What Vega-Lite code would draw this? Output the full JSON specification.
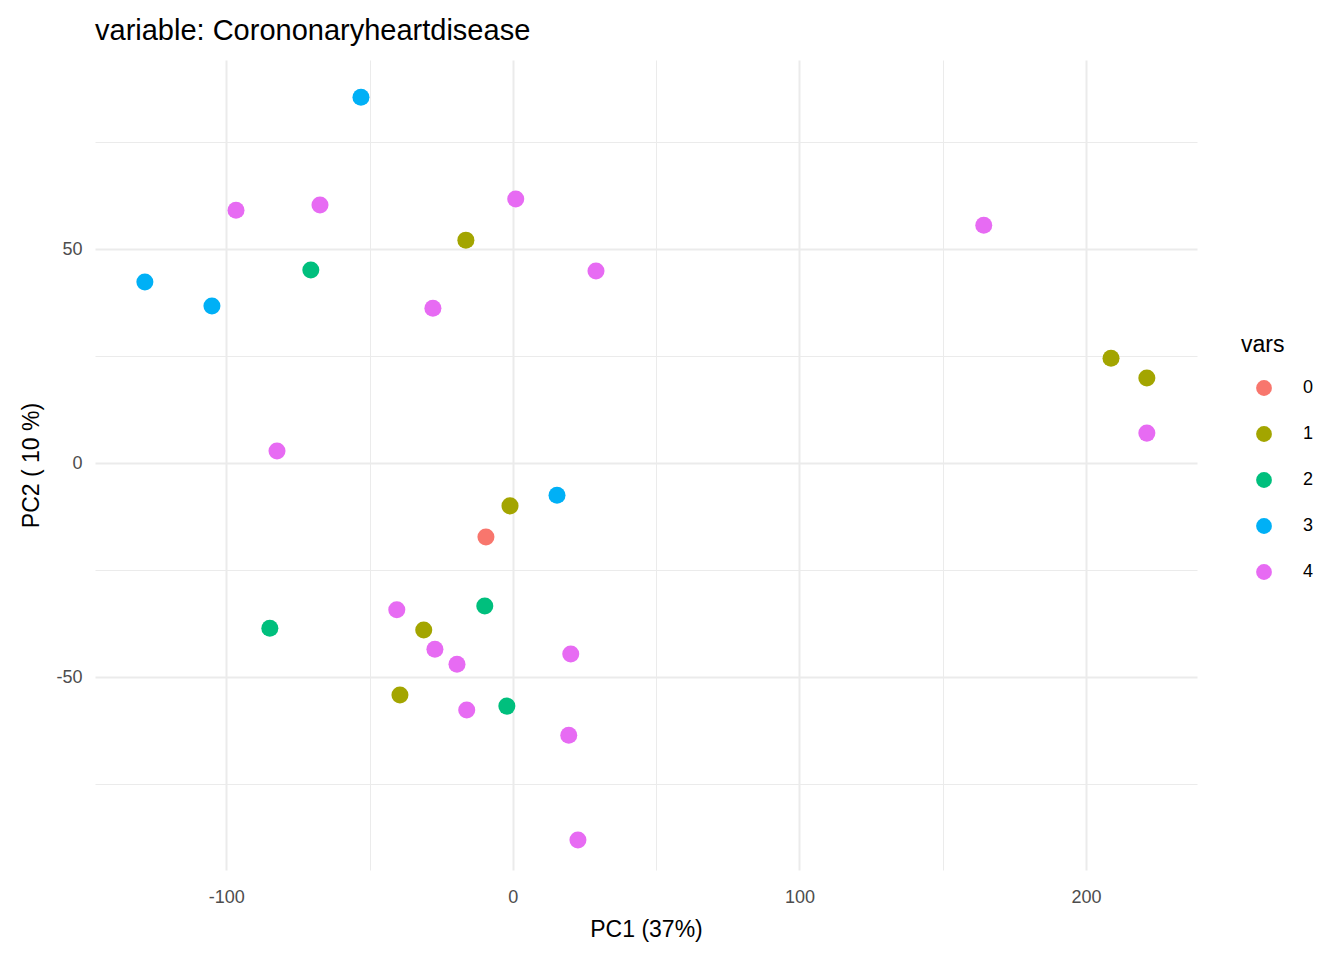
{
"$schema":"https://vega.github.io/schema/vega-lite/v6.json",
"width":1102,"height":810,
"autosize":{"type":"none"},
"padding":{"left":95,"top":60,"right":147,"bottom":90},
"background":"white",
"title":{"text":"variable: Corononaryheartdisease","anchor":"start","frame":"group","fontSize":29,"font":"Liberation Sans","fontWeight":"normal","color":"#000","offset":14},
"config":{"view":{"stroke":null},"font":"Liberation Sans"},
"data":{"values":[
{"PC1":-53.0,"PC2":85.5,"vars":"3"},
{"PC1":-128.4,"PC2":42.3,"vars":"3"},
{"PC1":-105.0,"PC2":36.7,"vars":"3"},
{"PC1":15.4,"PC2":-7.5,"vars":"3"},
{"PC1":-96.6,"PC2":59.1,"vars":"4"},
{"PC1":-67.3,"PC2":60.3,"vars":"4"},
{"PC1":1.0,"PC2":61.7,"vars":"4"},
{"PC1":29.0,"PC2":44.9,"vars":"4"},
{"PC1":-27.9,"PC2":36.2,"vars":"4"},
{"PC1":164.3,"PC2":55.6,"vars":"4"},
{"PC1":221.2,"PC2":7.0,"vars":"4"},
{"PC1":-82.3,"PC2":2.8,"vars":"4"},
{"PC1":-40.5,"PC2":-34.3,"vars":"4"},
{"PC1":-27.2,"PC2":-43.5,"vars":"4"},
{"PC1":-19.5,"PC2":-47.0,"vars":"4"},
{"PC1":20.2,"PC2":-44.6,"vars":"4"},
{"PC1":-16.1,"PC2":-57.7,"vars":"4"},
{"PC1":19.5,"PC2":-63.6,"vars":"4"},
{"PC1":22.7,"PC2":-88.1,"vars":"4"},
{"PC1":-16.4,"PC2":52.1,"vars":"1"},
{"PC1":208.7,"PC2":24.5,"vars":"1"},
{"PC1":221.2,"PC2":19.9,"vars":"1"},
{"PC1":-1.0,"PC2":-10.0,"vars":"1"},
{"PC1":-31.1,"PC2":-39.0,"vars":"1"},
{"PC1":-39.4,"PC2":-54.2,"vars":"1"},
{"PC1":-70.5,"PC2":45.1,"vars":"2"},
{"PC1":-84.8,"PC2":-38.6,"vars":"2"},
{"PC1":-9.8,"PC2":-33.4,"vars":"2"},
{"PC1":-2.1,"PC2":-56.8,"vars":"2"},
{"PC1":-9.4,"PC2":-17.3,"vars":"0"}
]},
"mark":{"type":"point","filled":true,"opacity":1,"size":290},
"encoding":{
"x":{"field":"PC1","type":"quantitative","title":"PC1 (37%)",
"scale":{"domain":[-145.8,238.7],"nice":false,"zero":false},
"axis":{"values":[-100,-50,0,50,100,150,200],"labelExpr":"datum.value % 100 == 0 ? toString(datum.value) : ''","domain":false,"ticks":false,"labelFontSize":18,"labelColor":"#4d4d4d","titleFontSize":23,"titleFontWeight":"normal","titleColor":"#000","labelPadding":18,"titlePadding":12,"gridColor":"#ebebeb","gridWidth":{"condition":{"test":"datum.value % 100 == 0","value":2},"value":1}}},
"y":{"field":"PC2","type":"quantitative","title":"PC2 ( 10 %)",
"scale":{"domain":[-95.1,94.2],"nice":false,"zero":false},
"axis":{"values":[-75,-50,-25,0,25,50,75],"labelExpr":"datum.value % 50 == 0 ? toString(datum.value) : ''","domain":false,"ticks":false,"labelFontSize":18,"labelColor":"#4d4d4d","titleFontSize":23,"titleFontWeight":"normal","titleColor":"#000","labelPadding":13,"titlePadding":12,"gridColor":"#ebebeb","gridWidth":{"condition":{"test":"datum.value % 50 == 0","value":2},"value":1}}},
"color":{"field":"vars","type":"nominal","title":"vars",
"scale":{"domain":["0","1","2","3","4"],"range":["#F8766D","#A3A500","#00BF7D","#00B0F6","#E76BF3"]},
"legend":{"orient":"none","legendX":1146,"legendY":274,"titleFontSize":23,"titleFontWeight":"normal","titleColor":"#000","titlePadding":22,"labelFontSize":18,"labelColor":"#000","symbolSize":250,"symbolType":"circle","rowPadding":28,"labelOffset":30,"symbolOffset":14}}
}
}
